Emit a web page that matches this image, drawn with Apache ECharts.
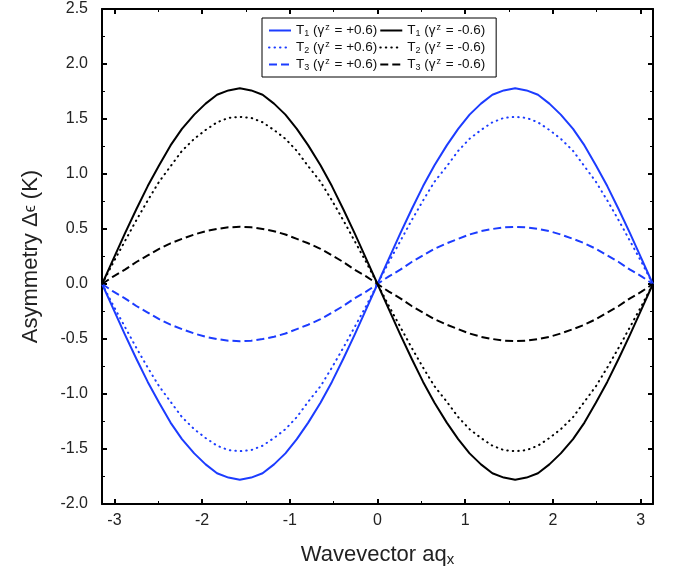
<!DOCTYPE html>
<html>
<head>
<meta charset="utf-8">
<script src="https://cdn.jsdelivr.net/npm/echarts@6/dist/echarts.min.js"></script>
<style>html,body{margin:0;padding:0;background:#fff;}#c{width:673px;height:577px;}</style>
</head>
<body>
<div id="c"></div>
<script>
// ---- data ----
const xValues = [-3.14, -3.01, -2.88, -2.75, -2.62, -2.49, -2.36, -2.23, -2.09, -1.96, -1.83, -1.70, -1.57, -1.44, -1.31, -1.18, -1.05, -0.92, -0.79, -0.65, -0.52, -0.39, -0.26, -0.13,
                 0, 0.13, 0.26, 0.39, 0.52, 0.65, 0.79, 0.92, 1.05, 1.18, 1.31, 1.44, 1.57, 1.70, 1.83, 1.96, 2.09, 2.23, 2.36, 2.49, 2.62, 2.75, 2.88, 3.01, 3.14];
const t1Plus  = [0, -0.23, -0.46, -0.68, -0.89, -1.08, -1.26, -1.41, -1.54, -1.64, -1.72, -1.76, -1.78, -1.76, -1.72, -1.64, -1.54, -1.41, -1.26, -1.08, -0.89, -0.68, -0.46, -0.23,
                 0, 0.23, 0.46, 0.68, 0.89, 1.08, 1.26, 1.41, 1.54, 1.64, 1.72, 1.76, 1.78, 1.76, 1.72, 1.64, 1.54, 1.41, 1.26, 1.08, 0.89, 0.68, 0.46, 0.23, 0];
const t2Plus  = [0, -0.20, -0.39, -0.58, -0.76, -0.93, -1.07, -1.21, -1.32, -1.40, -1.47, -1.51, -1.52, -1.51, -1.47, -1.40, -1.32, -1.21, -1.07, -0.93, -0.76, -0.58, -0.39, -0.20,
                 0, 0.20, 0.39, 0.58, 0.76, 0.93, 1.07, 1.21, 1.32, 1.40, 1.47, 1.51, 1.52, 1.51, 1.47, 1.40, 1.32, 1.21, 1.07, 0.93, 0.76, 0.58, 0.39, 0.20, 0];
const t3Plus  = [0, -0.07, -0.13, -0.20, -0.26, -0.32, -0.37, -0.41, -0.45, -0.48, -0.50, -0.515, -0.52, -0.515, -0.50, -0.48, -0.45, -0.41, -0.37, -0.32, -0.26, -0.20, -0.13, -0.07,
                 0, 0.07, 0.13, 0.20, 0.26, 0.32, 0.37, 0.41, 0.45, 0.48, 0.50, 0.515, 0.52, 0.515, 0.50, 0.48, 0.45, 0.41, 0.37, 0.32, 0.26, 0.20, 0.13, 0.07, 0];
const t1Minus = [0, 0.23, 0.46, 0.68, 0.89, 1.08, 1.26, 1.41, 1.54, 1.64, 1.72, 1.76, 1.78, 1.76, 1.72, 1.64, 1.54, 1.41, 1.26, 1.08, 0.89, 0.68, 0.46, 0.23,
                 0, -0.23, -0.46, -0.68, -0.89, -1.08, -1.26, -1.41, -1.54, -1.64, -1.72, -1.76, -1.78, -1.76, -1.72, -1.64, -1.54, -1.41, -1.26, -1.08, -0.89, -0.68, -0.46, -0.23, 0];
const t2Minus = [0, 0.20, 0.39, 0.58, 0.76, 0.93, 1.07, 1.21, 1.32, 1.40, 1.47, 1.51, 1.52, 1.51, 1.47, 1.40, 1.32, 1.21, 1.07, 0.93, 0.76, 0.58, 0.39, 0.20,
                 0, -0.20, -0.39, -0.58, -0.76, -0.93, -1.07, -1.21, -1.32, -1.40, -1.47, -1.51, -1.52, -1.51, -1.47, -1.40, -1.32, -1.21, -1.07, -0.93, -0.76, -0.58, -0.39, -0.20, 0];
const t3Minus = [0, 0.07, 0.13, 0.20, 0.26, 0.32, 0.37, 0.41, 0.45, 0.48, 0.50, 0.515, 0.52, 0.515, 0.50, 0.48, 0.45, 0.41, 0.37, 0.32, 0.26, 0.20, 0.13, 0.07,
                 0, -0.07, -0.13, -0.20, -0.26, -0.32, -0.37, -0.41, -0.45, -0.48, -0.50, -0.515, -0.52, -0.515, -0.50, -0.48, -0.45, -0.41, -0.37, -0.32, -0.26, -0.20, -0.13, -0.07, 0];
const xTickLabels = [-3, -2, -1, 0, 1, 2, 3];
const xMinorTicks = [-2.5, -1.5, -0.5, 0.5, 1.5, 2.5];
const xMin = -3.1416, xMax = 3.1416;
const yMin = -2.0, yMax = 2.5, yStep = 0.5;

const seriesNames = ['T1p', 'T1m', 'T2p', 'T2m', 'T3p', 'T3m'];
const legendText = {
  T1p: '{b|T}{s|1}{b| (}{g|γ}{p|z}{b| = +0.6)}',
  T1m: '{b|T}{s|1}{b| (}{g|γ}{p|z}{b| = -0.6)}',
  T2p: '{b|T}{s|2}{b| (}{g|γ}{p|z}{b| = +0.6)}',
  T2m: '{b|T}{s|2}{b| (}{g|γ}{p|z}{b| = -0.6)}',
  T3p: '{b|T}{s|3}{b| (}{g|γ}{p|z}{b| = +0.6)}',
  T3m: '{b|T}{s|3}{b| (}{g|γ}{p|z}{b| = -0.6)}'
};

const BLUE = '#1c3cff';
const BLACK = '#000000';
const FONT = 'Liberation Sans, Arial, Helvetica, sans-serif';
const DOTS = [0.5, 5];
const DASHES = [8, 4];

function pairs(ys) { return xValues.map((x, i) => [x, ys[i]]); }
function mkSeries(name, ys, color, type) {
  return {
    name: name, type: 'line', data: pairs(ys), smooth: false, symbol: 'none',
    legendIcon: 'rect',
    xAxisIndex: 0, yAxisIndex: 0,
    lineStyle: { color: color, width: 2, type: type, cap: type === DOTS ? 'round' : 'butt', join: 'round' },
    itemStyle: { color: color },
    emphasis: { disabled: true }, silent: true
  };
}

const chart = echarts.init(document.getElementById('c'), null, { renderer: 'canvas' });
const axisLineStyle = { color: '#000', width: 2 };
const option = {
  animation: false,
  backgroundColor: '#fff',
  textStyle: { fontFamily: FONT },
  grid: { left: 102, right: 20, top: 9, bottom: 73, containLabel: false },
  legend: {
    data: seriesNames,
    left: 262, top: 18, width: 225,
    orient: 'horizontal',
    padding: [5, 11, 5, 6],
    itemGap: 2,
    itemWidth: 22, itemHeight: 10,
    backgroundColor: '#fff', borderColor: '#000', borderWidth: 1, borderRadius: 0,
    selectedMode: false,
    itemStyle: { opacity: 0 },
    formatter: function (n) { return legendText[n]; },
    textStyle: {
      fontFamily: FONT, color: '#111', fontSize: 13.5,
      rich: {
        b: { fontSize: 13.5, fontFamily: FONT, color: '#111', lineHeight: 15 },
        g: { fontSize: 13.5, fontFamily: FONT, color: '#111', lineHeight: 15 },
        s: { fontSize: 9, fontFamily: FONT, color: '#111', verticalAlign: 'bottom', lineHeight: 15, padding: [5, 0, 0, 0] },
        p: { fontSize: 9, fontFamily: FONT, color: '#111', verticalAlign: 'top', lineHeight: 15, padding: [0, 1, 6, 1] }
      }
    }
  },
  xAxis: [
    {
      type: 'value', position: 'bottom', min: xMin, max: xMax,
      name: '{n|Wavevector aq}{s|x}', nameLocation: 'middle', nameGap: 38,
      nameTextStyle: {
        rich: {
          n: { fontSize: 22, fontFamily: FONT, color: '#222' },
          s: { fontSize: 15, fontFamily: FONT, color: '#222', verticalAlign: 'bottom', padding: [10, 0, 0, 0] }
        }
      },
      axisLine: { show: true, onZero: false, lineStyle: axisLineStyle },
      axisTick: { show: true, inside: true, length: 5, lineStyle: { color: '#000', width: 2 }, customValues: xTickLabels },
      axisLabel: { show: true, customValues: xTickLabels, fontSize: 16, color: '#222', fontFamily: FONT, margin: 9,
        formatter: function (v) { return String(Math.round(v)); } },
      splitLine: { show: false }
    },
    {
      type: 'value', position: 'bottom', min: xMin, max: xMax,
      axisLine: { show: false, onZero: false },
      axisTick: { show: true, inside: true, length: 3, lineStyle: { color: '#000', width: 1 }, customValues: xMinorTicks },
      axisLabel: { show: false }, splitLine: { show: false }
    },
    {
      type: 'value', position: 'top', min: xMin, max: xMax,
      axisLine: { show: true, onZero: false, lineStyle: axisLineStyle },
      axisTick: { show: true, inside: true, length: 5, lineStyle: { color: '#000', width: 2 }, customValues: xTickLabels },
      axisLabel: { show: false }, splitLine: { show: false }
    },
    {
      type: 'value', position: 'top', min: xMin, max: xMax,
      axisLine: { show: false, onZero: false },
      axisTick: { show: true, inside: true, length: 3, lineStyle: { color: '#000', width: 1 }, customValues: xMinorTicks },
      axisLabel: { show: false }, splitLine: { show: false }
    }
  ],
  yAxis: [
    {
      type: 'value', position: 'left', min: yMin, max: yMax, interval: yStep,
      name: '{n|Asymmetry Δ}{e|ϵ}{n| (K)}', nameLocation: 'middle', nameGap: 60, nameRotate: 90,
      nameTextStyle: {
        rich: {
          n: { fontSize: 22, fontFamily: FONT, color: '#222' },
          e: { fontSize: 16, fontFamily: FONT, color: '#222' }
        }
      },
      axisLine: { show: true, onZero: false, lineStyle: axisLineStyle },
      axisTick: { show: true, inside: true, length: 5, lineStyle: { color: '#000', width: 2 } },
      minorTick: { show: true, splitNumber: 2, length: 3, lineStyle: { color: '#000', width: 1 } },
      axisLabel: { fontSize: 16, color: '#222', fontFamily: FONT, margin: 14,
        formatter: function (v) { return v.toFixed(1); } },
      splitLine: { show: false }, minorSplitLine: { show: false }
    },
    {
      type: 'value', position: 'right', min: yMin, max: yMax, interval: yStep,
      axisLine: { show: true, onZero: false, lineStyle: axisLineStyle },
      axisTick: { show: true, inside: true, length: 5, lineStyle: { color: '#000', width: 2 } },
      minorTick: { show: true, splitNumber: 2, length: 3, lineStyle: { color: '#000', width: 1 } },
      axisLabel: { show: false },
      splitLine: { show: false }, minorSplitLine: { show: false }
    }
  ],
  series: [
    mkSeries('T1p', t1Plus, BLUE, 'solid'),
    mkSeries('T2p', t2Plus, BLUE, DOTS),
    mkSeries('T3p', t3Plus, BLUE, DASHES),
    mkSeries('T1m', t1Minus, BLACK, 'solid'),
    mkSeries('T2m', t2Minus, BLACK, DOTS),
    mkSeries('T3m', t3Minus, BLACK, DASHES)
  ]
};
chart.setOption(option);
</script>
</body>
</html>
